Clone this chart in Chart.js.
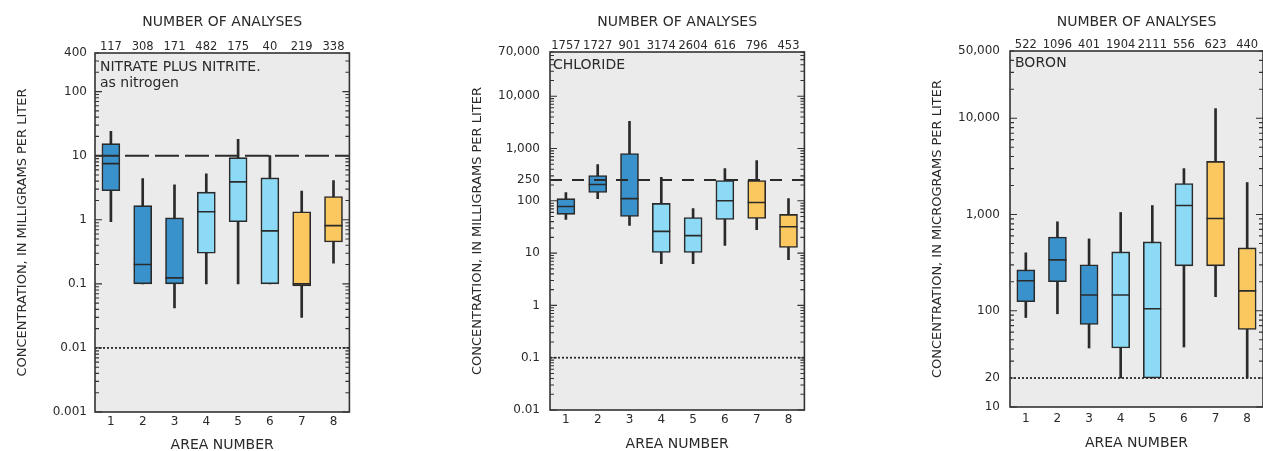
<!DOCTYPE html>
<html><head><meta charset="utf-8">
<script src="https://cdn.jsdelivr.net/npm/chart.js@4.4.0/dist/chart.umd.min.js"></script>
<style>
html,body{margin:0;padding:0;background:#fff;width:1263px;height:451px;overflow:hidden;position:relative}
canvas{position:absolute;top:0}
</style></head><body>
<canvas id="c1" width="360" height="456" style="left:0px"></canvas>
<canvas id="c2" width="365" height="456" style="left:450px"></canvas>
<canvas id="c3" width="370" height="456" style="left:905px"></canvas>
<script>
const areas = ['1','2','3','4','5','6','7','8'];
const areaColors = ['#3a92cc','#3a92cc','#3a92cc','#8cdaf5','#8cdaf5','#8cdaf5','#fac85f','#fac85f'];

// Nitrate plus nitrite, as nitrogen (mg/L)
const nitrateCounts = ['117','308','171','482','175','40','219','338'];
const nitrateLow    = [0.93, 0.1, 0.042, 0.1, 0.1, 0.1, 0.03, 0.21];
const nitrateQ1     = [2.84, 0.1, 0.1, 0.3, 0.93, 0.1, 0.093, 0.45];
const nitrateMedian = [7.5, 0.2, 0.124, 1.33, 3.9, 0.67, 0.1, 0.81];
const nitrateQ3     = [15.4, 1.66, 1.07, 2.7, 9.3, 4.5, 1.33, 2.3];
const nitrateHigh   = [24, 4.4, 3.5, 5.2, 18, 10, 2.8, 4.1];
const nitrateTicks  = [0.001, 0.01, 0.1, 1, 10, 100, 400];
const nitrateTickLabels = ['0.001','0.01','0.1','1','10','100','400'];

// Chloride (mg/L)
const chlorideCounts = ['1757','1727','901','3174','2604','616','796','453'];
const chlorideLow    = [44, 110, 34, 6.3, 6.3, 14, 28, 7.5];
const chlorideQ1     = [55, 144, 50, 10.3, 10.3, 44, 46, 12.8];
const chlorideMedian = [78, 205, 110, 26, 21.6, 100, 93, 32];
const chlorideQ3     = [110, 305, 800, 89, 48, 244, 244, 55];
const chlorideHigh   = [144, 494, 3300, 280, 71, 415, 590, 110];
const chlorideTicks  = [0.01, 0.1, 1, 10, 100, 250, 1000, 10000, 70000];
const chlorideTickLabels = ['0.01','0.1','1','10','100','250','1,000','10,000','70,000'];

// Boron (ug/L)
const boronCounts = ['522','1096','401','1904','2111','556','623','440'];
const boronLow    = [85, 93, 41, 20, 20, 42, 140, 20];
const boronQ1     = [124, 200, 72, 41, 20, 293, 293, 64];
const boronMedian = [205, 338, 146, 146, 105, 1240, 910, 161];
const boronQ3     = [266, 584, 300, 409, 519, 2100, 3560, 450];
const boronHigh   = [400, 840, 558, 1050, 1240, 3000, 12600, 2150];
const boronTicks  = [10, 20, 100, 1000, 10000, 50000];
const boronTickLabels = ['10','20','100','1,000','10,000','50,000'];

const FONT = '"DejaVu Sans", sans-serif';
const INK = '#2a2a2a';

const panelDeco = {
  id: 'panelDeco',
  beforeDatasetsDraw(chart) {
    const {ctx, chartArea: a} = chart;
    ctx.save();
    ctx.fillStyle = '#ebebeb';
    ctx.fillRect(a.left, a.top, a.right - a.left, a.bottom - a.top);
    ctx.restore();
  },
  afterDatasetsDraw(chart, args, o) {
    const {ctx, chartArea: a} = chart;
    const y = chart.scales.y;
    ctx.save();
    (o.refLines || []).forEach(r => {
      const py = y.getPixelForValue(r.value);
      ctx.setLineDash(r.dash);
      ctx.lineWidth = r.width;
      ctx.strokeStyle = INK;
      ctx.beginPath(); ctx.moveTo(a.left, py); ctx.lineTo(a.right, py); ctx.stroke();
    });
    ctx.setLineDash([]);
    ctx.lineWidth = 1.6; ctx.strokeStyle = '#333';
    ctx.strokeRect(a.left, a.top, a.right - a.left, a.bottom - a.top);
    const lo = Math.floor(Math.log10(y.min)), hi = Math.ceil(Math.log10(y.max));
    ctx.lineWidth = 1.1;
    for (let d = lo; d <= hi; d++) {
      for (let m = 1; m <= 9; m++) {
        const v = m * Math.pow(10, d);
        if (v < y.min * 0.999 || v > y.max * 1.001) continue;
        const py = y.getPixelForValue(v);
        const len = m === 1 ? 7 : 4;
        ctx.beginPath();
        ctx.moveTo(a.left, py); ctx.lineTo(a.left + len, py);
        ctx.moveTo(a.right, py); ctx.lineTo(a.right - len, py);
        ctx.stroke();
      }
    }
    ctx.fillStyle = INK;
    ctx.font = '14px ' + FONT;
    ctx.textBaseline = 'middle'; ctx.textAlign = 'left';
    (o.labels || []).forEach(l => ctx.fillText(l.text, a.left + l.dx, a.top + l.dy));
    ctx.restore();
  }
};
Chart.register(panelDeco);

function makePanel(id, p) {
  return new Chart(document.getElementById(id), {
    type: 'bar',
    data: {
      labels: areas,
      datasets: [
        {type: 'bar', data: p.low.map((v, i) => [v, p.high[i]]), backgroundColor: INK,
         barThickness: 2, grouped: false, order: 3},
        {type: 'bar', data: p.q1.map((v, i) => [v, p.q3[i]]), backgroundColor: areaColors,
         borderColor: INK, borderWidth: 1.6, borderSkipped: false, barThickness: 18, grouped: false, order: 2},
        {type: 'line', data: p.median, showLine: false, pointStyle: 'line', pointRadius: 9,
         pointBorderColor: INK, pointBorderWidth: 1.6, borderColor: INK, order: 1}
      ]
    },
    options: {
      responsive: false, animation: false, events: [],
      layout: {padding: {left: 0, right: p.padRight, top: 0, bottom: 0}},
      plugins: {legend: {display: false}, tooltip: {enabled: false},
        panelDeco: {refLines: p.refLines, labels: p.labels}},
      scales: {
        x: {type: 'category', position: 'bottom', offset: true,
            grid: {display: false, drawTicks: false}, border: {display: false},
            ticks: {font: {family: FONT, size: 12}, color: INK, padding: p.xTickPad, maxRotation: 0, autoSkip: false},
            title: {display: true, text: 'AREA NUMBER', color: INK, font: {family: FONT, size: 14},
                    padding: {top: 0, bottom: p.xTitlePad}},
            afterFit: s => { s.height = p.bottomH; }},
        x2: {type: 'category', position: 'top', labels: p.counts, offset: true,
             grid: {display: false, drawTicks: false}, border: {display: false},
             ticks: {font: {family: FONT, size: 11.5}, color: INK, padding: -1, maxRotation: 0, autoSkip: false},
             title: {display: true, text: 'NUMBER OF ANALYSES', color: INK, font: {family: FONT, size: 14},
                     padding: {top: 14, bottom: 0}},
             afterFit: s => { s.height = p.topH; }},
        y: {type: 'logarithmic', min: p.min, max: p.max,
            afterBuildTicks: s => { s.ticks = p.ticks.map(v => ({value: v})); },
            ticks: {font: {family: FONT, size: 12}, color: INK, padding: p.yTickPad,
                    callback: (v, i) => p.tickLabels[i]},
            grid: {display: false, drawTicks: false}, border: {display: false},
            title: {display: true, text: p.yTitle, color: INK, font: {family: FONT, size: 13},
                    padding: {top: p.yTitlePad, bottom: 0}},
            afterFit: s => { s.width = p.yW; }}
      }
    }
  });
}

makePanel('c1', {
  counts: nitrateCounts, low: nitrateLow, q1: nitrateQ1, median: nitrateMedian, q3: nitrateQ3, high: nitrateHigh,
  ticks: nitrateTicks, tickLabels: nitrateTickLabels, min: 0.001, max: 400,
  yTitle: 'CONCENTRATION, IN MILLIGRAMS PER LITER',
  yW: 95, padRight: 10, topH: 53, bottomH: 44, xTickPad: 3, xTitlePad: 2, yTitlePad: 15, yTickPad: 8,
  refLines: [{value: 10, dash: [24, 6], width: 2}, {value: 0.01, dash: [2, 2], width: 1.8}],
  labels: [{text: 'NITRATE PLUS NITRITE.', dx: 5, dy: 14}, {text: 'as nitrogen', dx: 5, dy: 30}]
});
makePanel('c2', {
  counts: chlorideCounts, low: chlorideLow, q1: chlorideQ1, median: chlorideMedian, q3: chlorideQ3, high: chlorideHigh,
  ticks: chlorideTicks, tickLabels: chlorideTickLabels, min: 0.01, max: 70000,
  yTitle: 'CONCENTRATION, IN MILLIGRAMS PER LITER',
  yW: 100, padRight: 10, topH: 52, bottomH: 46, xTickPad: 3, xTitlePad: 3, yTitlePad: 20, yTickPad: 10,
  refLines: [{value: 250, dash: [12, 10], width: 2}, {value: 0.1, dash: [2, 2], width: 1.8}],
  labels: [{text: 'CHLORIDE', dx: 3, dy: 13}]
});
makePanel('c3', {
  counts: boronCounts, low: boronLow, q1: boronQ1, median: boronMedian, q3: boronQ3, high: boronHigh,
  ticks: boronTicks, tickLabels: boronTickLabels, min: 10, max: 50000,
  yTitle: 'CONCENTRATION, IN MICROGRAMS PER LITER',
  yW: 105, padRight: 12, topH: 51, bottomH: 49, xTickPad: 5, xTitlePad: 4, yTitlePad: 25, yTickPad: 10,
  refLines: [{value: 20, dash: [2, 2], width: 1.8}],
  labels: [{text: 'BORON', dx: 5, dy: 12}]
});
</script>
</body></html>
